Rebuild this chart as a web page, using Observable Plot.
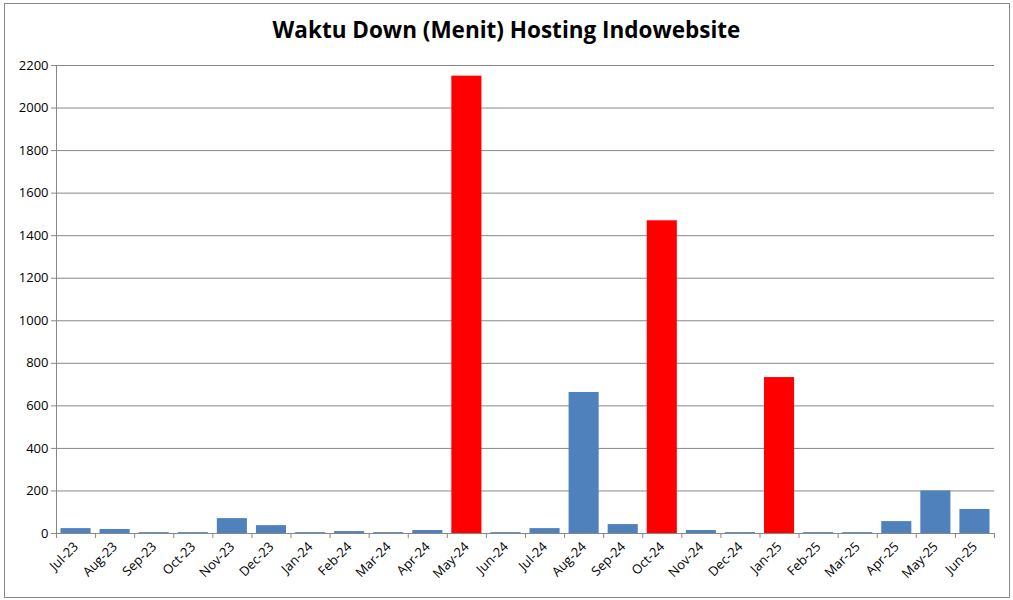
<!DOCTYPE html>
<html><head><meta charset="utf-8">
<script src="https://cdn.jsdelivr.net/npm/d3@7"></script>
<script src="https://cdn.jsdelivr.net/npm/@observablehq/plot@0.6"></script>
<style>
body{margin:0;background:#fff;font-family:"Open Sans",sans-serif;}
#frame{position:absolute;left:4px;top:3px;width:1006px;height:595px;border:1px solid #888;box-sizing:border-box;}
#title{position:absolute;left:0;top:14px;width:1013px;text-align:center;font:bold 22.5px "Open Sans",sans-serif;color:#000;}
#chart{position:absolute;left:0;top:0;}
</style></head>
<body>
<div id="frame"></div>
<div id="chart"></div>
<div id="title">Waktu Down (Menit) Hosting Indowebsite</div>
<script>
const months = ["Jul-23","Aug-23","Sep-23","Oct-23","Nov-23","Dec-23","Jan-24","Feb-24","Mar-24","Apr-24","May-24","Jun-24","Jul-24","Aug-24","Sep-24","Oct-24","Nov-24","Dec-24","Jan-25","Feb-25","Mar-25","Apr-25","May-25","Jun-25"];
const downtime = [23,19,4,4,70,37,4,9,4,14,2150,4,23,663,42,1470,14,4,733,4,4,56,200,113];
const highlighted = ["May-24","Oct-24","Jan-25"];
const yTicks = [0,200,400,600,800,1000,1200,1400,1600,1800,2000,2200];

const data = months.map((m,i)=>({m, i, v: downtime[i], hi: highlighted.includes(m)}));
const grid = "#888888";

const plot = Plot.plot({
  width: 1013, height: 600,
  marginTop: 65, marginBottom: 67, marginLeft: 56, marginRight: 19,
  style: {fontFamily: "'Open Sans', sans-serif", fontSize: "13px", color: "#000", background: "transparent"},
  x: {domain: [0, months.length], axis: null},
  y: {domain: [0, 2200], axis: null},
  marks: [
    Plot.ruleY(yTicks.filter(d=>d>0), {stroke: grid, strokeWidth: 1}),
    Plot.rectY(data, {x1: d=>d.i, x2: d=>d.i+1, y1: 0, y2: "v", insetLeft: 4.5, insetRight: 4.5, fill: d=>d.hi ? "#FF0000" : "#4F81BD"}),
    Plot.axisY({ticks: yTicks, tickSize: 5, tickPadding: 3, stroke: grid, label: null, tickFormat: d=>String(d)}),
    Plot.ruleX([0], {stroke: grid}),
    Plot.ruleY([0], {stroke: grid}),
    Plot.axisX({ticks: d3.range(0, months.length+1), tickSize: 5, tickFormat: ()=> "", label: null, stroke: grid}),
    Plot.axisX({ticks: d3.range(0, months.length).map(i=>i+0.5), tickSize: 0, tickPadding: 11, tickRotate: -45, label: null, tickFormat: d=>months[Math.floor(d)]})
  ]
});
document.getElementById("chart").appendChild(plot);
</script>
</body></html>
